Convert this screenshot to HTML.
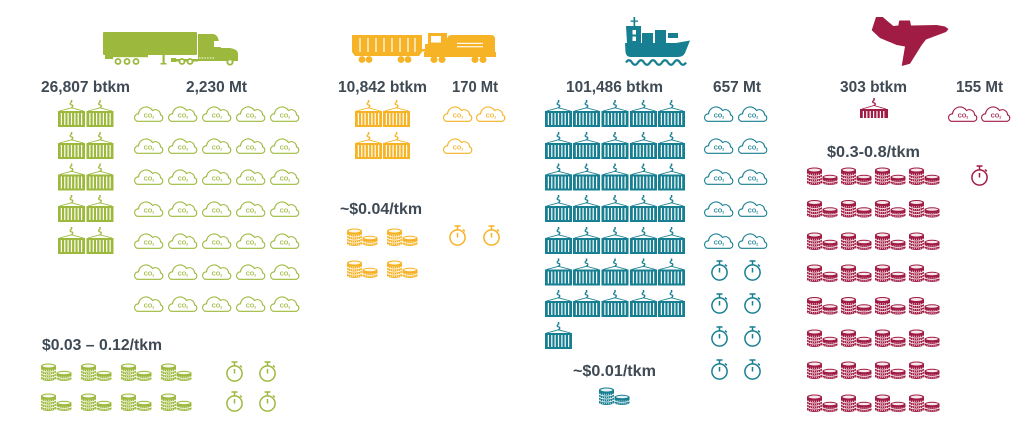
<!DOCTYPE html>
<html><head><meta charset="utf-8"><style>
html,body{margin:0;padding:0;background:#fff;}
svg{display:block;}
.lb{font-family:"Liberation Sans",sans-serif;font-weight:bold;font-size:16px;fill:#3f4a55;}
.co{font-family:"Liberation Sans",sans-serif;font-weight:bold;font-size:5.6px;text-anchor:middle;}
.co tspan{font-size:3.6px;}
</style></head><body>
<svg width="1024" height="435" viewBox="0 0 1024 435" xmlns="http://www.w3.org/2000/svg">
<defs>
<g id="ct">
<rect x="12.8" y="0" width="1.5" height="2.5"/>
<path d="M13.5,2.5 c-1.8,0.4 -1.8,2.2 0,2.4 c1.8,0.3 1.8,2.2 -0.3,2.6" fill="none" stroke="currentColor" stroke-width="1.2"/>
<path d="M13.5,7.8 L1.5,11 M13.5,7.8 L25.5,11" fill="none" stroke="currentColor" stroke-width="0.9"/>
<rect x="0" y="11" width="27" height="16"/>
<path d="M3.4,13 V25 M6.8,13 V25 M10.1,13 V25 M13.5,13 V25 M16.9,13 V25 M20.2,13 V25 M23.6,13 V25" stroke="#fff" stroke-width="1.2"/>
</g>
<path id="cl" d="M4.5,16.3 A3.8,3.8 0 0 1 5.5,8.8 A7.6,7.6 0 0 1 19.5,5.5 A5.2,5.2 0 0 1 27.5,9.8 A3.4,3.4 0 0 1 27.2,16.3 Z" fill="none" stroke="currentColor" stroke-width="1.1"/>
<g id="cn">
<path d="M0,3 a7.5,2.5 0 0 1 15,0 V15.5 a7.5,2.5 0 0 1 -15,0 Z"/>
<ellipse cx="7.5" cy="3" rx="6" ry="1.5" fill="#fff" opacity=".9"/>
<path d="M0,6.5 a7.5,2.5 0 0 0 15,0 M0,9.5 a7.5,2.5 0 0 0 15,0 M0,12.5 a7.5,2.5 0 0 0 15,0" stroke="#fff" stroke-width="0.8" fill="none"/>
<path d="M1,7.3 H14 M1,10.3 H14 M1,13.3 H14 M1,16.3 H14" stroke="#fff" stroke-width="1.3" stroke-dasharray="0.7 1.3" opacity=".8"/>
<path d="M15.5,10 a7.5,2.2 0 0 1 15,0 V15.8 a7.5,2.2 0 0 1 -15,0 Z"/>
<ellipse cx="23" cy="10" rx="6" ry="1.3" fill="#fff" opacity=".9"/>
<path d="M15.5,13.2 a7.5,2.2 0 0 0 15,0" stroke="#fff" stroke-width="0.8" fill="none"/>
<path d="M16.5,14 H29.5 M16.5,16.8 H29.5" stroke="#fff" stroke-width="1.3" stroke-dasharray="0.7 1.3" opacity=".8"/>
</g>
<g id="sw" fill="none" stroke="currentColor" stroke-width="1.5">
<circle cx="9.5" cy="12.5" r="7.6"/>
<path d="M6.5,1 H12.5 M9.5,1 V4.9 M9.5,8 V12.5 M15,4.5 L16.8,6.3"/>
</g>
</defs>

<!-- ================= TRUCK ================= -->
<g style="color:#9db93d" fill="#9db93d">
<rect x="103" y="32" width="94" height="23" rx="1"/>
<rect x="105" y="55" width="8" height="4"/>
<rect x="112" y="55" width="36" height="2.2"/>
<circle cx="118" cy="61.5" r="3.4"/><circle cx="127" cy="61.5" r="3.4"/><circle cx="136" cy="61.5" r="3.4"/>
<circle cx="118" cy="61.5" r="1.6" fill="#fff"/><circle cx="127" cy="61.5" r="1.6" fill="#fff"/><circle cx="136" cy="61.5" r="1.6" fill="#fff"/>
<rect x="162.5" y="55" width="2.2" height="9"/>
<rect x="160.5" y="63" width="6" height="1.5"/>
<rect x="171" y="58" width="5" height="4"/>
<rect x="176" y="59" width="22" height="2.5"/>
<circle cx="182" cy="61.5" r="3.4"/><circle cx="190" cy="61.5" r="3.4"/>
<circle cx="182" cy="61.5" r="1.6" fill="#fff"/><circle cx="190" cy="61.5" r="1.6" fill="#fff"/>
<path d="M198,34 H213 Q216,34 218,38 L221,48 H230 Q237,49 238,53 V61 H198 Z"/>
<rect x="214" y="41" width="7" height="6" fill="#fff"/>
<path d="M199,58 H214" stroke="#fff" stroke-width="1" stroke-dasharray="1.5 1.2"/>
<circle cx="230" cy="62" r="3.6"/><circle cx="230" cy="62" r="1.7" fill="#fff"/>

<text class="lb" x="41" y="92" textLength="89" lengthAdjust="spacingAndGlyphs">26,807 btkm</text>
<text class="lb" x="186" y="92" textLength="61" lengthAdjust="spacingAndGlyphs">2,230 Mt</text>

<use href="#ct" x="58" y="100"/><use href="#ct" x="86.5" y="100"/>
<use href="#ct" x="58" y="132"/><use href="#ct" x="86.5" y="132"/>
<use href="#ct" x="58" y="163.5"/><use href="#ct" x="86.5" y="163.5"/>
<use href="#ct" x="58" y="195"/><use href="#ct" x="86.5" y="195"/>
<use href="#ct" x="58" y="227"/><use href="#ct" x="86.5" y="227"/>

<g transform="translate(0,105)"><use href="#cl" x="133"/><use href="#cl" x="167"/><use href="#cl" x="201"/><use href="#cl" x="235"/><use href="#cl" x="269"/>
<text class="co" x="149" y="12.5">CO<tspan dy="1">2</tspan></text><text class="co" x="183" y="12.5">CO<tspan dy="1">2</tspan></text><text class="co" x="217" y="12.5">CO<tspan dy="1">2</tspan></text><text class="co" x="251" y="12.5">CO<tspan dy="1">2</tspan></text><text class="co" x="285" y="12.5">CO<tspan dy="1">2</tspan></text></g>
<g transform="translate(0,137)"><use href="#cl" x="133"/><use href="#cl" x="167"/><use href="#cl" x="201"/><use href="#cl" x="235"/><use href="#cl" x="269"/>
<text class="co" x="149" y="12.5">CO<tspan dy="1">2</tspan></text><text class="co" x="183" y="12.5">CO<tspan dy="1">2</tspan></text><text class="co" x="217" y="12.5">CO<tspan dy="1">2</tspan></text><text class="co" x="251" y="12.5">CO<tspan dy="1">2</tspan></text><text class="co" x="285" y="12.5">CO<tspan dy="1">2</tspan></text></g>
<g transform="translate(0,168)"><use href="#cl" x="133"/><use href="#cl" x="167"/><use href="#cl" x="201"/><use href="#cl" x="235"/><use href="#cl" x="269"/>
<text class="co" x="149" y="12.5">CO<tspan dy="1">2</tspan></text><text class="co" x="183" y="12.5">CO<tspan dy="1">2</tspan></text><text class="co" x="217" y="12.5">CO<tspan dy="1">2</tspan></text><text class="co" x="251" y="12.5">CO<tspan dy="1">2</tspan></text><text class="co" x="285" y="12.5">CO<tspan dy="1">2</tspan></text></g>
<g transform="translate(0,200)"><use href="#cl" x="133"/><use href="#cl" x="167"/><use href="#cl" x="201"/><use href="#cl" x="235"/><use href="#cl" x="269"/>
<text class="co" x="149" y="12.5">CO<tspan dy="1">2</tspan></text><text class="co" x="183" y="12.5">CO<tspan dy="1">2</tspan></text><text class="co" x="217" y="12.5">CO<tspan dy="1">2</tspan></text><text class="co" x="251" y="12.5">CO<tspan dy="1">2</tspan></text><text class="co" x="285" y="12.5">CO<tspan dy="1">2</tspan></text></g>
<g transform="translate(0,232)"><use href="#cl" x="133"/><use href="#cl" x="167"/><use href="#cl" x="201"/><use href="#cl" x="235"/><use href="#cl" x="269"/>
<text class="co" x="149" y="12.5">CO<tspan dy="1">2</tspan></text><text class="co" x="183" y="12.5">CO<tspan dy="1">2</tspan></text><text class="co" x="217" y="12.5">CO<tspan dy="1">2</tspan></text><text class="co" x="251" y="12.5">CO<tspan dy="1">2</tspan></text><text class="co" x="285" y="12.5">CO<tspan dy="1">2</tspan></text></g>
<g transform="translate(0,263)"><use href="#cl" x="133"/><use href="#cl" x="167"/><use href="#cl" x="201"/><use href="#cl" x="235"/><use href="#cl" x="269"/>
<text class="co" x="149" y="12.5">CO<tspan dy="1">2</tspan></text><text class="co" x="183" y="12.5">CO<tspan dy="1">2</tspan></text><text class="co" x="217" y="12.5">CO<tspan dy="1">2</tspan></text><text class="co" x="251" y="12.5">CO<tspan dy="1">2</tspan></text><text class="co" x="285" y="12.5">CO<tspan dy="1">2</tspan></text></g>
<g transform="translate(0,295)"><use href="#cl" x="133"/><use href="#cl" x="167"/><use href="#cl" x="201"/><use href="#cl" x="235"/><use href="#cl" x="269"/>
<text class="co" x="149" y="12.5">CO<tspan dy="1">2</tspan></text><text class="co" x="183" y="12.5">CO<tspan dy="1">2</tspan></text><text class="co" x="217" y="12.5">CO<tspan dy="1">2</tspan></text><text class="co" x="251" y="12.5">CO<tspan dy="1">2</tspan></text><text class="co" x="285" y="12.5">CO<tspan dy="1">2</tspan></text></g>

<text class="lb" x="42" y="350" textLength="120" lengthAdjust="spacingAndGlyphs">$0.03 – 0.12/tkm</text>
<use href="#cn" x="41" y="363"/><use href="#cn" x="81" y="363"/><use href="#cn" x="121" y="363"/><use href="#cn" x="161" y="363"/>
<use href="#cn" x="41" y="393"/><use href="#cn" x="81" y="393"/><use href="#cn" x="121" y="393"/><use href="#cn" x="161" y="393"/>
<use href="#sw" x="225" y="361"/><use href="#sw" x="258" y="361"/>
<use href="#sw" x="225" y="391"/><use href="#sw" x="258" y="391"/>
</g>

<!-- ================= RAIL ================= -->
<g style="color:#f5b325" fill="#f5b325">
<path d="M352,35 H422 V52 L419,56 H355 L352,52 Z"/>
<path d="M360,38 V52 M368,38 V52 M376,38 V52 M384,38 V52 M392,38 V52 M400,38 V52 M408,38 V52 M415,38 V52" stroke="#fff" stroke-width="1.2"/>
<circle cx="362" cy="59.5" r="3.4"/><circle cx="369" cy="59.5" r="3.4"/>
<circle cx="401" cy="59.5" r="3.4"/><circle cx="408" cy="59.5" r="3.4"/>
<rect x="421" y="49" width="5" height="2.5"/>
<path d="M428,33 H447 V53 H425 V44 H428 Z"/>
<rect x="431" y="36" width="10" height="6.5" fill="#fff"/>
<path d="M447,40 Q447,35 452,35 H491 Q495,35 495,39 V54 H447 Z"/>
<rect x="457" y="42.8" width="26" height="1.1" fill="#fff"/>
<rect x="457" y="46.2" width="26" height="1.1" fill="#fff"/>
<rect x="424" y="52" width="72" height="5"/>
<circle cx="434" cy="59.5" r="3.5"/><circle cx="442" cy="59.5" r="3.5"/>
<circle cx="475" cy="59.5" r="3.5"/><circle cx="483" cy="59.5" r="3.5"/>

<text class="lb" x="338" y="92" textLength="89" lengthAdjust="spacingAndGlyphs">10,842 btkm</text>
<text class="lb" x="452" y="92" textLength="46" lengthAdjust="spacingAndGlyphs">170 Mt</text>

<use href="#ct" x="355" y="100"/><use href="#ct" x="383" y="100"/>
<use href="#ct" x="355" y="132"/><use href="#ct" x="383" y="132"/>

<use href="#cl" x="442" y="105"/><use href="#cl" x="475" y="105"/><use href="#cl" x="442" y="137"/>
<text class="co" x="458" y="117.5">CO<tspan dy="1">2</tspan></text>
<text class="co" x="491" y="117.5">CO<tspan dy="1">2</tspan></text>
<text class="co" x="458" y="149.5">CO<tspan dy="1">2</tspan></text>

<text class="lb" x="340" y="214" textLength="82" lengthAdjust="spacingAndGlyphs">~$0.04/tkm</text>
<use href="#cn" x="347" y="228"/><use href="#cn" x="387" y="228"/>
<use href="#cn" x="347" y="260"/><use href="#cn" x="387" y="260"/>
<use href="#sw" x="448" y="225"/><use href="#sw" x="482" y="225"/>
</g>

<!-- ================= SHIP ================= -->
<g style="color:#177f92" fill="#177f92">
<rect x="633.5" y="17" width="1.7" height="10"/>
<rect x="630.5" y="20.5" width="7.5" height="1.3"/>
<path d="M626,26 H641 V43 H627 Z"/>
<rect x="632.5" y="30" width="3.5" height="4.5" fill="#fff"/>
<rect x="632.5" y="36.5" width="3.5" height="4.5" fill="#fff"/>
<rect x="642" y="33" width="11" height="10"/>
<rect x="655" y="30" width="11" height="13"/>
<rect x="668" y="33" width="10" height="5"/>
<path d="M625,43 H676 L690,40.5 L685,53 Q683,57 678,57 H631 Q626,57 625.5,52 Z"/>
<path d="M626,62.5 q3,-4.5 6,0 t6,0 t6,0 t6,0 t6,0 t6,0 t6,0 t6,0 t6,0 t6,0" fill="none" stroke="#177f92" stroke-width="2.2"/>

<text class="lb" x="566" y="92" textLength="97" lengthAdjust="spacingAndGlyphs">101,486 btkm</text>
<text class="lb" x="713" y="92" textLength="48" lengthAdjust="spacingAndGlyphs">657 Mt</text>

<g><use href="#ct" x="545" y="100"/><use href="#ct" x="573" y="100"/><use href="#ct" x="601.5" y="100"/><use href="#ct" x="630" y="100"/><use href="#ct" x="658" y="100"/></g>
<g><use href="#ct" x="545" y="132"/><use href="#ct" x="573" y="132"/><use href="#ct" x="601.5" y="132"/><use href="#ct" x="630" y="132"/><use href="#ct" x="658" y="132"/></g>
<g><use href="#ct" x="545" y="163.5"/><use href="#ct" x="573" y="163.5"/><use href="#ct" x="601.5" y="163.5"/><use href="#ct" x="630" y="163.5"/><use href="#ct" x="658" y="163.5"/></g>
<g><use href="#ct" x="545" y="195"/><use href="#ct" x="573" y="195"/><use href="#ct" x="601.5" y="195"/><use href="#ct" x="630" y="195"/><use href="#ct" x="658" y="195"/></g>
<g><use href="#ct" x="545" y="227"/><use href="#ct" x="573" y="227"/><use href="#ct" x="601.5" y="227"/><use href="#ct" x="630" y="227"/><use href="#ct" x="658" y="227"/></g>
<g><use href="#ct" x="545" y="258.5"/><use href="#ct" x="573" y="258.5"/><use href="#ct" x="601.5" y="258.5"/><use href="#ct" x="630" y="258.5"/><use href="#ct" x="658" y="258.5"/></g>
<g><use href="#ct" x="545" y="290"/><use href="#ct" x="573" y="290"/><use href="#ct" x="601.5" y="290"/><use href="#ct" x="630" y="290"/><use href="#ct" x="658" y="290"/></g>
<use href="#ct" x="545" y="322"/>

<use href="#cl" x="703" y="105"/><use href="#cl" x="737" y="105"/>
<use href="#cl" x="703" y="137"/><use href="#cl" x="737" y="137"/>
<use href="#cl" x="703" y="168"/><use href="#cl" x="737" y="168"/>
<use href="#cl" x="703" y="200"/><use href="#cl" x="737" y="200"/>
<use href="#cl" x="703" y="232"/><use href="#cl" x="737" y="232"/>
<text class="co" x="719" y="117.5">CO<tspan dy="1">2</tspan></text><text class="co" x="753" y="117.5">CO<tspan dy="1">2</tspan></text>
<text class="co" x="719" y="149.5">CO<tspan dy="1">2</tspan></text><text class="co" x="753" y="149.5">CO<tspan dy="1">2</tspan></text>
<text class="co" x="719" y="180.5">CO<tspan dy="1">2</tspan></text><text class="co" x="753" y="180.5">CO<tspan dy="1">2</tspan></text>
<text class="co" x="719" y="212.5">CO<tspan dy="1">2</tspan></text><text class="co" x="753" y="212.5">CO<tspan dy="1">2</tspan></text>
<text class="co" x="719" y="244.5">CO<tspan dy="1">2</tspan></text><text class="co" x="753" y="244.5">CO<tspan dy="1">2</tspan></text>

<use href="#sw" x="710" y="260"/><use href="#sw" x="743" y="260"/>
<use href="#sw" x="710" y="293"/><use href="#sw" x="743" y="293"/>
<use href="#sw" x="710" y="326"/><use href="#sw" x="743" y="326"/>
<use href="#sw" x="710" y="359"/><use href="#sw" x="743" y="359"/>

<text class="lb" x="573" y="376" textLength="83" lengthAdjust="spacingAndGlyphs">~$0.01/tkm</text>
<use href="#cn" x="599" y="387"/>
</g>

<!-- ================= AIR ================= -->
<g style="color:#a11c44" fill="#a11c44">
<path d="M876,17 L882.7,17 L893.3,26 L898.3,25.5 L899.3,20.5 L910,20.5 L911,25.5 L936.7,25 L945,26.5 L948.5,29 L946,32 L926,39.5 L921.7,45 L910,63.7 L901.7,66 L905,46.5 L896.7,45 L880,38 L871.7,30.3 L873.3,25.3 Z"/>
<rect x="912" y="45" width="6" height="3.5" rx="1.5"/>

<text class="lb" x="840" y="92" textLength="67" lengthAdjust="spacingAndGlyphs">303 btkm</text>
<text class="lb" x="956" y="92" textLength="47" lengthAdjust="spacingAndGlyphs">155 Mt</text>

<rect x="873.3" y="98" width="1.5" height="2.5"/>
<path d="M874,100.5 c-1.8,0.4 -1.8,2.2 0,2.4 c1.8,0.3 1.8,2.2 -0.3,2.6" fill="none" stroke="#a11c44" stroke-width="1.2"/>
<path d="M874,105.5 L862,109 M874,105.5 L886,109" fill="none" stroke="#a11c44" stroke-width="0.9"/>
<rect x="860" y="109" width="28" height="9"/>
<path d="M863.4,111 V118 M866.8,111 V118 M870.2,111 V118 M873.6,111 V118 M877,111 V118 M880.4,111 V118 M883.8,111 V118" stroke="#fff" stroke-width="1.2"/>

<use href="#cl" x="947" y="105"/><use href="#cl" x="980" y="105"/>
<text class="co" x="963" y="117.5">CO<tspan dy="1">2</tspan></text>
<text class="co" x="996" y="117.5">CO<tspan dy="1">2</tspan></text>

<text class="lb" x="827" y="157" textLength="93" lengthAdjust="spacingAndGlyphs">$0.3-0.8/tkm</text>
<use href="#sw" x="970" y="165"/>

<g><use href="#cn" x="807" y="167"/><use href="#cn" x="841" y="167"/><use href="#cn" x="875" y="167"/><use href="#cn" x="909" y="167"/></g>
<g><use href="#cn" x="807" y="199.5"/><use href="#cn" x="841" y="199.5"/><use href="#cn" x="875" y="199.5"/><use href="#cn" x="909" y="199.5"/></g>
<g><use href="#cn" x="807" y="232"/><use href="#cn" x="841" y="232"/><use href="#cn" x="875" y="232"/><use href="#cn" x="909" y="232"/></g>
<g><use href="#cn" x="807" y="264"/><use href="#cn" x="841" y="264"/><use href="#cn" x="875" y="264"/><use href="#cn" x="909" y="264"/></g>
<g><use href="#cn" x="807" y="296.5"/><use href="#cn" x="841" y="296.5"/><use href="#cn" x="875" y="296.5"/><use href="#cn" x="909" y="296.5"/></g>
<g><use href="#cn" x="807" y="329"/><use href="#cn" x="841" y="329"/><use href="#cn" x="875" y="329"/><use href="#cn" x="909" y="329"/></g>
<g><use href="#cn" x="807" y="361"/><use href="#cn" x="841" y="361"/><use href="#cn" x="875" y="361"/><use href="#cn" x="909" y="361"/></g>
<g><use href="#cn" x="807" y="394"/><use href="#cn" x="841" y="394"/><use href="#cn" x="875" y="394"/><use href="#cn" x="909" y="394"/></g>
</g>
</svg>
</body></html>
